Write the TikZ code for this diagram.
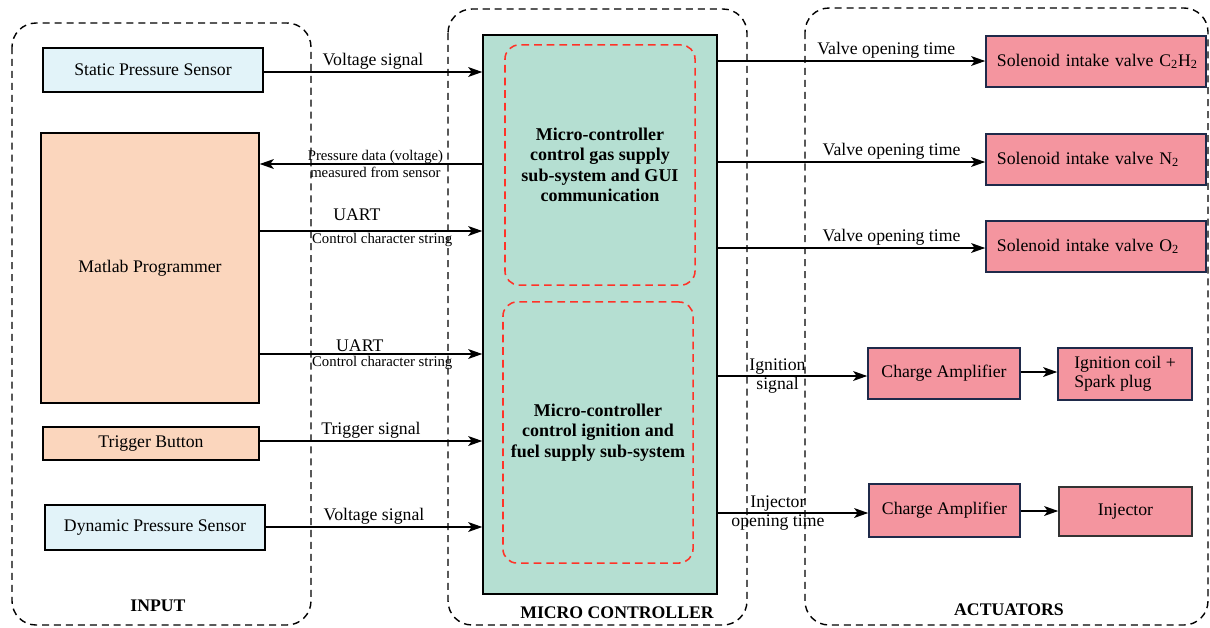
\documentclass[tikz,border=0pt]{standalone}
\usepackage{fontspec}
\setmainfont{Liberation Serif}
\usepackage{tikz}
\usetikzlibrary{arrows.meta, positioning}
\definecolor{sensorblue}{HTML}{E2F3F9}
\definecolor{peach}{HTML}{FBD6BD}
\definecolor{mcugreen}{HTML}{B5DFD2}
\definecolor{actpink}{HTML}{F4959F}
\definecolor{navy}{HTML}{1F2A4A}
\definecolor{subred}{HTML}{FF3328}

\begin{document}
\begin{tikzpicture}[
  x=0.025cm, y=-0.025cm,
  every node/.style={font=\fontsize{12.6}{14}\selectfont},
  box/.style={draw, line width=1pt, align=center, inner sep=2pt},
  sensor/.style={box, fill=sensorblue},
  user/.style={box, fill=peach},
  act/.style={box, fill=actpink, draw=navy, line width=1.1pt},
  valve/.style={act, minimum width=5.5cm, minimum height=1.275cm, text width=4.95cm, inner xsep=0.275cm, align=left},
  group/.style={dashed, line width=1pt, dash pattern=on 5pt off 3.5pt, rounded corners=0.6cm},
  sub/.style={draw=subred, dashed, line width=1.1pt, dash pattern=on 5.5pt off 3.5pt, rounded corners=0.35cm,
              align=center, font=\fontsize{12.8}{14.6}\selectfont\bfseries},
  title/.style={font=\fontsize{12.6}{14}\selectfont\bfseries},
  small/.style={font=\fontsize{10.5}{12}\selectfont, inner sep=1pt, align=center},
  lbl/.style={inner sep=1.5pt, align=center},
  twoline/.style={inner sep=1pt, align=center, font=\fontsize{12.6}{13.6}\selectfont},
  arrow/.style={-{Stealth[length=10pt, width=7pt, inset=2.5pt]}, line width=1pt},
]
\useasboundingbox (0,0) rectangle (1210,627);

% Group boundaries
\draw[group] (12,23) rectangle (311,625);
\draw[group] (448,9) rectangle (747,625);
\draw[group] (805,8) rectangle (1208,625);
\node[title] (tin) at (158,606) {INPUT};
\node[title] (tmcu) at (617,613) {MICRO CONTROLLER};
\node[title] (tact) at (1009,610) {ACTUATORS};

% Input side
\node[sensor, minimum width=5.5cm, minimum height=1.1cm] (static) at (153,70) {Static Pressure Sensor};
\node[user, minimum width=5.45cm, minimum height=6.75cm] (matlab) at (150,268) {Matlab Programmer};
\node[user, minimum width=5.4cm, minimum height=0.825cm] (trigger) at (151,443.5) {Trigger Button};
\node[sensor, minimum width=5.5cm, minimum height=1.125cm] (dynamic) at (155,527.5) {Dynamic Pressure Sensor};

% Micro controller
\node[box, fill=mcugreen, minimum width=5.85cm, minimum height=13.975cm] (mcu) at (600,314.5) {};
\node[sub, minimum width=4.75cm, minimum height=6cm] (gas) at (600,165)
  {Micro-controller\\control gas supply\\sub-system and GUI\\communication};
\node[sub, minimum width=4.75cm, minimum height=6.525cm] (ign) at (598,432.5)
  {Micro-controller\\control ignition and\\fuel supply sub-system};

% Actuators
\node[valve] (valveA) at (1096,61.5) {\mbox{Solenoid intake valve C\textsubscript{2}H\textsubscript{2}}};
\node[valve] (valveB) at (1096,159.5) {Solenoid intake valve N\textsubscript{2}};
\node[valve] (valveC) at (1096,246.5) {Solenoid intake valve O\textsubscript{2}};
\node[act, minimum width=3.8cm, minimum height=1.275cm] (ampA) at (944,373.5) {Charge Amplifier};
\node[act, minimum width=3.35cm, minimum height=1.3cm, align=left, font=\fontsize{12.6}{13.6}\selectfont] (coil) at (1125,374) {Ignition coil +\\Spark plug};
\node[act, minimum width=3.775cm, minimum height=1.325cm] (ampB) at (944.5,510.5) {Charge Amplifier};
\node[act, draw=black!80, minimum width=3.325cm, minimum height=1.225cm] (injector) at (1125.5,511.5) {Injector};

% Input arrows
\draw[arrow] (static.east |- 0,72) -- node[lbl, above] {Voltage signal} (mcu.west |- 0,72);
\draw[arrow] (mcu.west |- 0,164) -- node[small, pos=0.48] {Pressure data (voltage)\\measured from sensor} (matlab.east |- 0,164);
\draw[arrow] (matlab.east |- 0,231) -- node[lbl, above=5pt, xshift=-10] {UART} node[small, below, xshift=8] {Control character string} (mcu.west |- 0,231);
\draw[arrow] (matlab.east |- 0,354) -- node[lbl, above, xshift=-8] {UART} node[small, below, xshift=8] {Control character string} (mcu.west |- 0,354);
\draw[arrow] (trigger.east |- 0,441) -- node[lbl, above] {Trigger signal} (mcu.west |- 0,441);
\draw[arrow] (dynamic.east |- 0,527) -- node[lbl, above] {Voltage signal} (mcu.west |- 0,527);

% Output arrows
\draw[arrow] (mcu.east |- 0,61) -- node[lbl, above, pos=0.63] {Valve opening time} (valveA.west |- 0,61);
\draw[arrow] (mcu.east |- 0,162) -- node[lbl, above, pos=0.65] {Valve opening time} (valveB.west |- 0,162);
\draw[arrow] (mcu.east |- 0,248) -- node[lbl, above, pos=0.65] {Valve opening time} (valveC.west |- 0,248);
\draw[arrow] (mcu.east |- 0,376) -- node[twoline, pos=0.4] {Ignition\\signal} (ampA.west |- 0,376);
\draw[arrow] (mcu.east |- 0,513) -- node[twoline, pos=0.4] {Injector\\opening time} (ampB.west |- 0,513);
\draw[arrow] (ampA.east |- 0,372) -- (coil.west |- 0,372);
\draw[arrow] (ampB.east |- 0,511) -- (injector.west |- 0,511);

\end{tikzpicture}
\end{document}
